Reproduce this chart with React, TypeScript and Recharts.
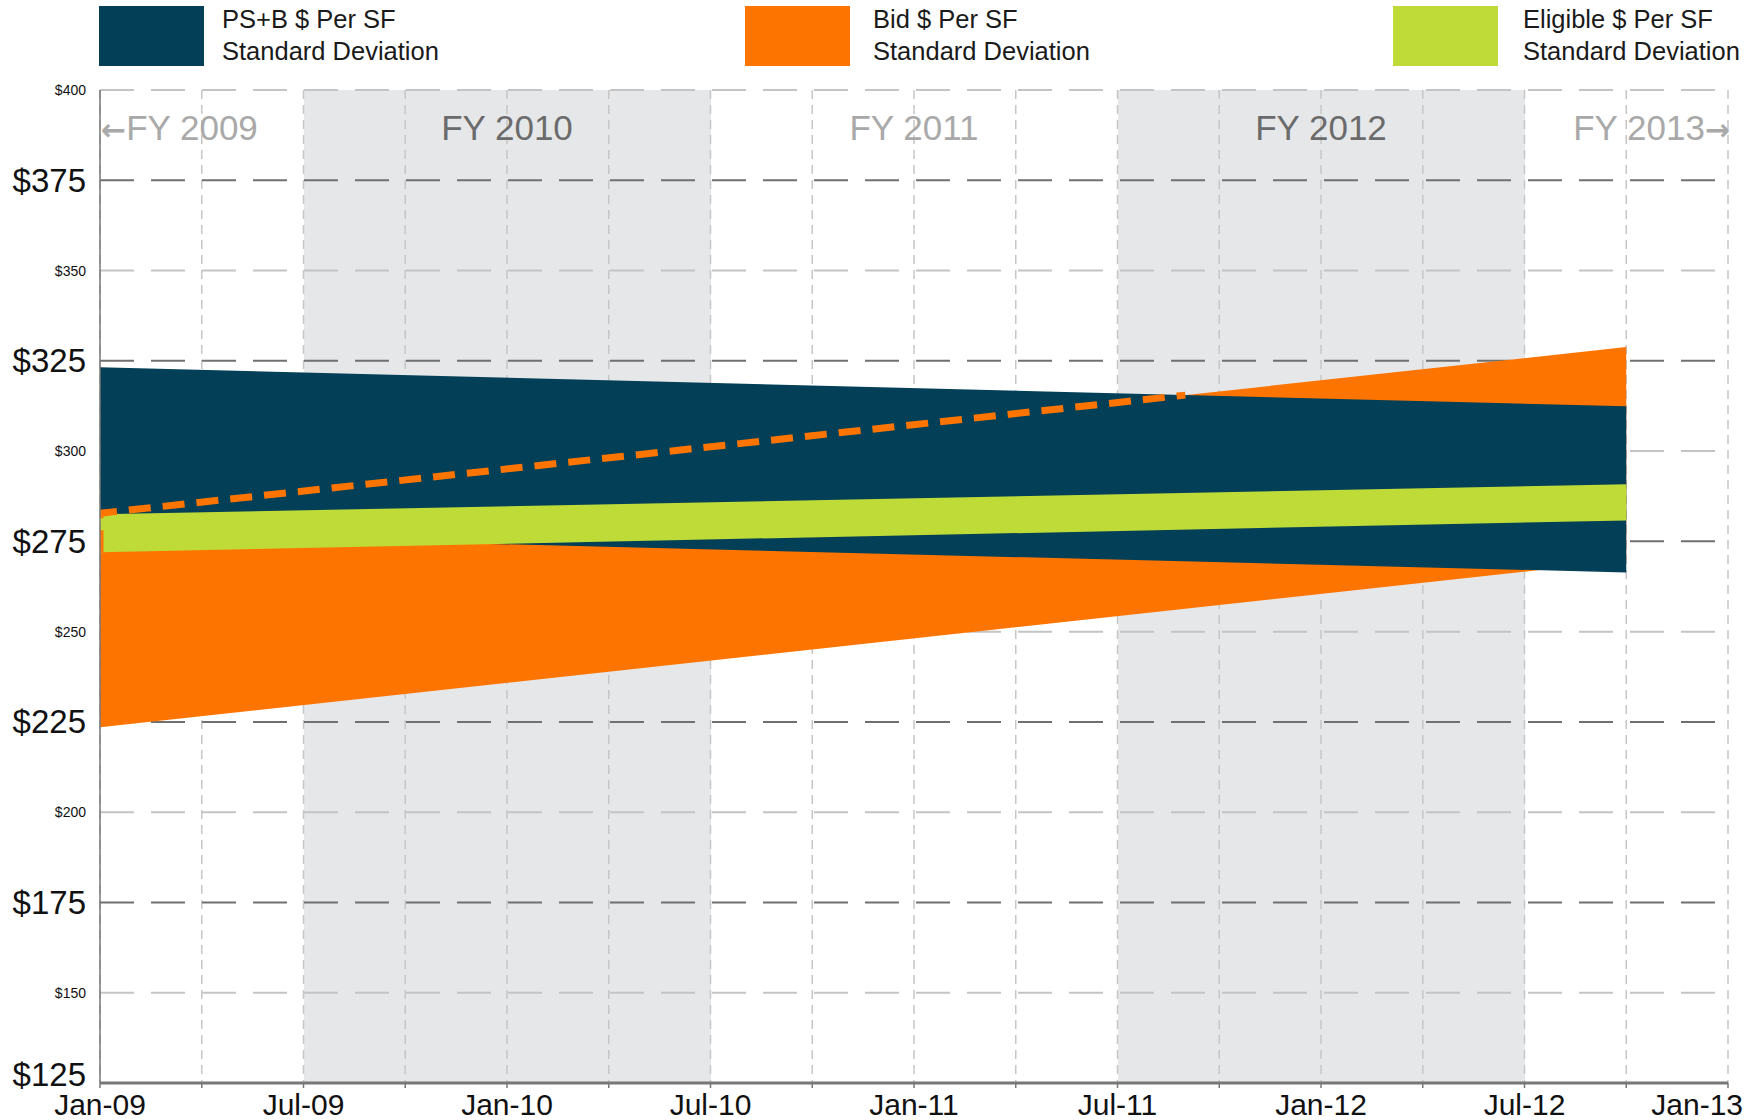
import React from 'react';
import {
  ComposedChart,
  Area,
  Line,
  XAxis,
  YAxis,
  CartesianGrid,
  ReferenceArea,
} from 'recharts';

// months counted from Jan-09
const months = [0, 45];
const psbLow = [277, 266.4];
const psbHigh = [323.2, 312.4];
const bidLow = [223.5, 269.7];
const bidHigh = [282.8, 328.8];
const eligLow = [272, 280.8];
const eligHigh = [282.5, 290.8];

// the part of the Bid band edge that sits behind the PS+B band
const hiddenEdgeMonths = [0, 0, 32];
const hiddenEdgeValues = [272, 282.8, 315.5];

const xTicks = [0, 3, 6, 9, 12, 15, 18, 21, 24, 27, 30, 33, 36, 39, 42, 45, 48];
const xLabels = ['Jan-09', 'Jul-09', 'Jan-10', 'Jul-10', 'Jan-11', 'Jul-11', 'Jan-12', 'Jul-12', 'Jan-13'];
const yTicks = [125, 150, 175, 200, 225, 250, 275, 300, 325, 350, 375, 400];
const majorTicks = [125, 175, 225, 275, 325, 375];
const majorLines = [175, 225, 275, 325, 375];
const minorLines = [150, 200, 250, 300, 350, 400];

const fyNames = ['FY 2009', 'FY 2010', 'FY 2011', 'FY 2012', 'FY 2013'];
const fyStart = [0, 6, 18, 30, 42];
const fyEnd = [6, 18, 30, 42, 48];
const fyShaded = [false, true, false, true, false];

const legendNames = ['PS+B $ Per SF', 'Bid $ Per SF', 'Eligible $ Per SF'];

const NAVY = '#033f57';
const ORANGE = '#fe7400';
const GREEN = '#bfdb38';
const SHADE = '#e6e7e9';
const FONT = "'Liberation Sans', Arial, Helvetica, sans-serif";

// quarter stripes: FY 2010 and FY 2012 (Jul to Jul) are shaded
const quarterFill = ['none', 'none', SHADE, SHADE, SHADE, SHADE, 'none', 'none'];

const chartData = months.map((m, i) => ({
  m,
  psb: [psbLow[i], psbHigh[i]],
  bid: [bidLow[i], bidHigh[i]],
  elig: [eligLow[i], eligHigh[i]],
}));

const hiddenEdge = hiddenEdgeMonths.map((m, i) => ({ m, v: hiddenEdgeValues[i] }));

function XTick(props: any) {
  const { x, y, payload } = props;
  const m = payload.value;
  if (m % 6 !== 0) return null;
  const last = m === 48;
  return (
    <text
      x={last ? x + 15 : x}
      y={y + 25}
      textAnchor={last ? 'end' : 'middle'}
      fill="#111"
      fontSize={30}
      fontFamily={FONT}
    >
      {xLabels[m / 6]}
    </text>
  );
}

function YTick(props: any) {
  const { x, y, payload } = props;
  const major = majorTicks.includes(payload.value);
  const bottom = payload.value === 125;
  return (
    <text
      x={x}
      y={y}
      dy={bottom ? 3 : major ? 11.5 : 5}
      textAnchor="end"
      fill="#111"
      fontSize={major ? 33 : 14}
      fontFamily={FONT}
    >
      ${payload.value}
    </text>
  );
}

function fyLabel(i: number) {
  return (props: any) => {
    const { x, y, width } = props.viewBox;
    const dark = fyShaded[i];
    const color = dark ? '#6b6b6b' : '#a9a9a9';
    const arrow = (
      <tspan fontFamily="'DejaVu Sans', sans-serif" fontWeight="bold" fontSize={30}>
        {i === 0 ? '\u2190' : '\u2192'}
      </tspan>
    );
    let tx = x + width / 2;
    let anchor = 'middle';
    if (i === 0) {
      tx = x + 1;
      anchor = 'start';
    } else if (i === fyNames.length - 1) {
      tx = x + width + 2;
      anchor = 'end';
    }
    return (
      <text x={tx} y={y + 50} textAnchor={anchor} fill={color} fontSize={35} fontFamily={FONT}>
        {i === 0 ? arrow : null}
        {fyNames[i]}
        {i === fyNames.length - 1 ? arrow : null}
      </text>
    );
  };
}

function LegendBlock() {
  const left = [99, 745, 1393];
  const textLeft = [222, 873, 1523];
  const colors = [NAVY, ORANGE, GREEN];
  return (
    <>
      {legendNames.map((name, i) => (
        <div key={name}>
          <div
            style={{
              position: 'absolute',
              left: left[i],
              top: 6,
              width: 105,
              height: 60,
              background: colors[i],
            }}
          />
          <div
            style={{
              position: 'absolute',
              left: textLeft[i],
              top: 3,
              fontSize: 25.5,
              lineHeight: '32px',
              color: '#1a1a1a',
              fontFamily: FONT,
              whiteSpace: 'nowrap',
            }}
          >
            {name}
            <br />
            Standard Deviation
          </div>
        </div>
      ))}
    </>
  );
}

export default function App() {
  return (
    <div
      style={{
        position: 'absolute',
        left: 0,
        top: 0,
        width: 1758,
        height: 1120,
        background: '#fff',
        fontFamily: FONT,
        overflow: 'hidden',
      }}
    >
      <LegendBlock />
      <ComposedChart
        width={1758}
        height={1120}
        data={chartData}
        margin={{ top: 90, right: 30, bottom: 0, left: 0 }}
        style={{ overflow: 'visible' }}
      >
        <CartesianGrid
          horizontal={false}
          vertical
          verticalFill={quarterFill}
          stroke="#c6c6c6"
          strokeWidth={1.5}
          strokeDasharray="9 6"
        />
        <CartesianGrid
          vertical={false}
          horizontal
          horizontalValues={minorLines}
          stroke="#c4c4c4"
          strokeWidth={2}
          strokeDasharray="34 17"
        />
        <CartesianGrid
          vertical={false}
          horizontal
          horizontalValues={majorLines}
          stroke="#707070"
          strokeWidth={2}
          strokeDasharray="34 17"
        />
        {fyNames.map((name, i) => (
          <ReferenceArea
            key={name}
            x1={fyStart[i]}
            x2={fyEnd[i]}
            y1={125}
            y2={400}
            fill="#fff"
            fillOpacity={0}
            stroke="none"
            ifOverflow="visible"
            label={fyLabel(i)}
          />
        ))}
        <XAxis
          dataKey="m"
          type="number"
          domain={[0, 48]}
          ticks={xTicks}
          interval={0}
          allowDataOverflow
          height={37}
          tickSize={5}
          tickMargin={2}
          tick={<XTick />}
          axisLine={{ stroke: '#777', strokeWidth: 3 }}
          tickLine={{ stroke: '#777', strokeWidth: 1.5 }}
        />
        <YAxis
          type="number"
          domain={[125, 400]}
          ticks={yTicks}
          interval={0}
          allowDataOverflow
          width={100}
          tickSize={0}
          tickMargin={14}
          tickLine={false}
          tick={<YTick />}
          axisLine={{ stroke: '#777', strokeWidth: 1.5 }}
        />
        <Area
          type="linear"
          dataKey="bid"
          fill={ORANGE}
          fillOpacity={1}
          stroke="none"
          dot={false}
          activeDot={false}
          isAnimationActive={false}
        />
        <Area
          type="linear"
          dataKey="psb"
          fill={NAVY}
          fillOpacity={1}
          stroke="none"
          dot={false}
          activeDot={false}
          isAnimationActive={false}
        />
        <Area
          type="linear"
          dataKey="elig"
          fill={GREEN}
          fillOpacity={1}
          stroke="none"
          dot={false}
          activeDot={false}
          isAnimationActive={false}
        />
        <Line
          data={hiddenEdge}
          type="linear"
          dataKey="v"
          stroke={ORANGE}
          strokeWidth={7}
          strokeDasharray="22 12"
          dot={false}
          activeDot={false}
          isAnimationActive={false}
        />
      </ComposedChart>
    </div>
  );
}
